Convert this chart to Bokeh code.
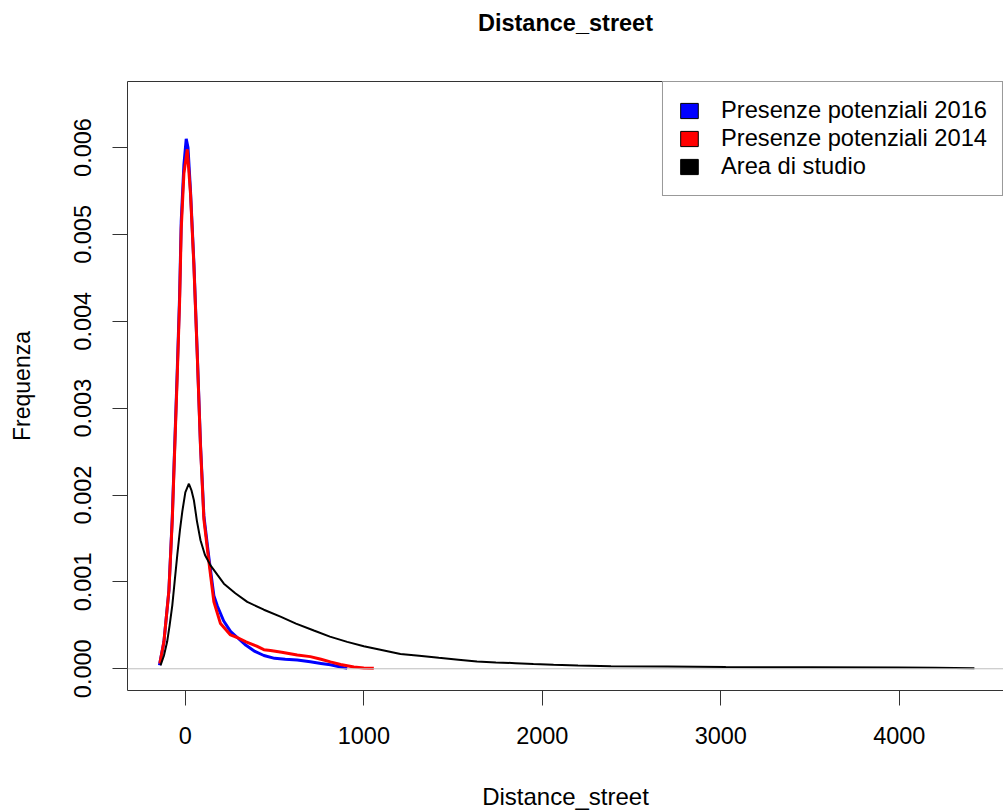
from bokeh.plotting import figure
from bokeh.models import (Range1d, FixedTicker, PrintfTickFormatter, Span,
                          Legend, LegendItem, LinearAxis)
from bokeh.embed import file_html
from bokeh.resources import INLINE

TITLE = "Distance_street"
X_LABEL = "Distance_street"
Y_LABEL = "Frequenza"
X_TICKS = [0, 1000, 2000, 3000, 4000]
Y_TICKS = [0.000, 0.001, 0.002, 0.003, 0.004, 0.005, 0.006]
SERIES_NAMES = ["Presenze potenziali 2016", "Presenze potenziali 2014", "Area di studio"]
SERIES_COLORS = ["#0000FF", "#FF0000", "#000000"]

# Presenze potenziali 2016 (blue)
x_2016 = [-145, -120, -92, -73, -59, -45, -32, -23, -8, 5, 15, 29, 48, 67, 85, 104,
          132, 160, 180, 215, 253, 291, 340, 390, 440, 500, 560, 627, 700, 760, 813,
          870, 907]
y_2016 = [0.00004, 0.00031, 0.0009, 0.00175, 0.0026, 0.00345, 0.0043, 0.00515,
          0.0058, 0.0061, 0.0060, 0.0055, 0.00467, 0.00362, 0.00258, 0.00176,
          0.00128, 0.00084, 0.00072, 0.00055, 0.00043, 0.00036, 0.00027, 0.0002,
          0.000153, 0.00012, 0.00011, 0.0001, 0.00008, 0.000062, 0.000046,
          0.00002, 0.000005]

# Presenze potenziali 2014 (red)
x_2014 = [-143, -120, -92, -73, -59, -45, -32, -23, -8, 11, 29, 48, 67, 85, 104,
          132, 160, 197, 253, 291, 340, 400, 440, 477, 540, 627, 700, 760, 813,
          870, 944, 1000, 1056]
y_2014 = [0.00006, 0.00031, 0.0009, 0.00172, 0.00256, 0.00339, 0.00423, 0.00506,
          0.0057, 0.00598, 0.00547, 0.00464, 0.0036, 0.00256, 0.00172, 0.00123,
          0.00077, 0.00052, 0.00039, 0.00036, 0.00031, 0.00026, 0.00022, 0.00021,
          0.00019, 0.000158, 0.00014, 0.00011, 0.00008, 0.00005, 0.00002,
          0.00001, 0.000005]

# Area di studio (black)
x_area = [-139, -120, -102, -88, -73, -60, -45, -30, -17, 0, 20, 35, 48, 65, 85,
          110, 141, 180, 216, 280, 347, 440, 533, 620, 720, 810, 907, 1000, 1093,
          1205, 1310, 1420, 1530, 1634, 1740, 1849, 1950, 2063, 2200, 2385, 2700,
          3028, 3500, 3993, 4200, 4421]
y_area = [0.00004, 0.00015, 0.00031, 0.0005, 0.00073, 0.001, 0.00131, 0.0016,
          0.00181, 0.00203, 0.00213, 0.00205, 0.00194, 0.0017, 0.00148, 0.00131,
          0.00119, 0.00108, 0.00098, 0.00087, 0.00077, 0.00068, 0.0006, 0.00052,
          0.00044, 0.00037, 0.00031, 0.00026, 0.00022, 0.00017, 0.00015, 0.000126,
          0.000105, 0.000084, 0.000073, 0.000065, 0.000055, 0.000046, 0.000038,
          0.00003, 0.000025, 0.00002, 0.000017, 0.000015, 0.000012, 0.000005]

X_START, X_END = -324, 4584
Y_START, Y_END = -0.00025, 0.00676
FONT = "Liberation Sans"
NAN = float("nan")

p = figure(width=1003, height=812, output_backend="svg", toolbar_location=None,
           title=None,
           x_range=Range1d(X_START, X_END), y_range=Range1d(Y_START, Y_END),
           min_border_left=127, min_border_right=0, min_border_top=81,
           min_border_bottom=121, background_fill_color="white",
           border_fill_color="white")
p.outline_line_color = None
p.xgrid.visible = False
p.ygrid.visible = False

for ax in (p.xaxis[0], p.yaxis[0]):
    ax.major_tick_out = 15
    ax.major_tick_in = 0
    ax.minor_tick_line_color = None
    ax.axis_line_color = "#333333"
    ax.major_tick_line_color = "#333333"
    ax.major_label_text_font = FONT
    ax.major_label_text_font_size = "23.5px"
    ax.major_label_text_color = "black"
    ax.axis_label_text_font = FONT
    ax.axis_label_text_font_style = "normal"
    ax.axis_label_text_color = "black"

p.xaxis.ticker = FixedTicker(ticks=X_TICKS)
p.xaxis.formatter = PrintfTickFormatter(format="%d")
p.xaxis.axis_label = X_LABEL
p.xaxis.axis_label_text_font_size = "24px"
p.xaxis.major_label_standoff = 21
p.xaxis.axis_label_standoff = 36

p.yaxis.ticker = FixedTicker(ticks=Y_TICKS)
p.yaxis.formatter = PrintfTickFormatter(format="%.3f")
p.yaxis.major_label_orientation = "vertical"
p.yaxis.axis_label = Y_LABEL
p.yaxis.axis_label_text_font_size = "23px"
p.yaxis.major_label_standoff = 21
p.yaxis.axis_label_standoff = 37

# top frame edge carrying the bold title
top_axis = LinearAxis(ticker=FixedTicker(ticks=[]), axis_line_color="#333333",
                      major_tick_line_color=None, minor_tick_line_color=None,
                      major_tick_out=0, major_tick_in=0, major_label_standoff=0,
                      axis_label=TITLE, axis_label_text_font=FONT,
                      axis_label_text_font_style="bold",
                      axis_label_text_font_size="23.5px",
                      axis_label_text_color="black", axis_label_standoff=46)
p.add_layout(top_axis, "above")

p.add_layout(Span(location=0, dimension="width", line_color="#bebebe", line_width=1))

p.line(x_2016, y_2016, line_color=SERIES_COLORS[0], line_width=3)
p.line(x_2014, y_2014, line_color=SERIES_COLORS[1], line_width=3)
p.line(x_area, y_area, line_color=SERIES_COLORS[2], line_width=2)

items = []
for name, col in zip(SERIES_NAMES, SERIES_COLORS):
    r = p.quad(left=[NAN], right=[NAN], top=[NAN], bottom=[NAN],
               fill_color=col, line_color="black", line_width=1)
    items.append(LegendItem(label=name, renderers=[r]))

legend = Legend(items=items, location="top_right", margin=0, padding=15, spacing=1,
                glyph_width=22, glyph_height=19, label_standoff=21,
                label_text_font=FONT, label_text_font_size="23.7px",
                label_text_color="black", border_line_color="#333333",
                border_line_width=1, background_fill_color="white",
                background_fill_alpha=1.0)
p.add_layout(legend)

open("out.html", "w").write(file_html(p, INLINE))
